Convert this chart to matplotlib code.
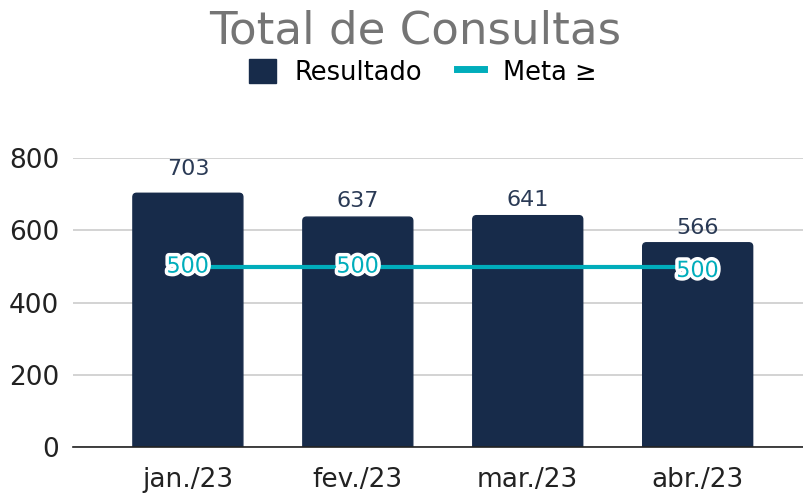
import numpy as np
import matplotlib.pyplot as plt
import matplotlib.patheffects as pe
from matplotlib.patches import FancyBboxPatch, Patch
from matplotlib.lines import Line2D

# Data
months = ["jan./23", "fev./23", "mar./23", "abr./23"]
resultado = [703, 637, 641, 566]
meta = [500, 500, 500, 500]
meta_labels_shown = [True, True, False, True]

bar_color = "#172b4a"
meta_color = "#00adbb"

fig = plt.figure(figsize=(8.04, 4.93), dpi=100)
ax = fig.add_axes([0.0908, 0.093, 0.908, 0.586])

x = np.arange(len(months))
width = 0.647
# bars with slightly rounded tops
for xi, v in zip(x, resultado):
    box = FancyBboxPatch((xi - width / 2, -30), width, v + 30,
                         boxstyle="round,pad=0,rounding_size=0.022",
                         mutation_aspect=470, color=bar_color, zorder=2,
                         clip_on=True)
    ax.add_patch(box)
ax.plot(x, meta, color=meta_color, lw=3, zorder=3)

# value labels above bars
lbl_gap = [40, 16, 16, 14]
for xi, v, g in zip(x, resultado, lbl_gap):
    ax.text(xi, v + g, str(v), ha="center", va="bottom", fontsize=16,
            color="#2a3a55", zorder=4)

offsets = [0, 0, 0, -12]
for xi, v, show, off in zip(x, meta, meta_labels_shown, offsets):
    if show:
        ax.text(xi, v + off, str(v), ha="center", va="center", fontsize=16,
                color=meta_color, zorder=5,
                path_effects=[pe.withStroke(linewidth=5, foreground="white")])

ax.set_ylim(0, 800)
ax.set_xlim(-0.676, 3.62)
ax.set_yticks([0, 200, 400, 600, 800])
ax.set_xticks(x)
ax.set_xticklabels(months)
ax.tick_params(axis="both", length=0, labelsize=19, colors="#222222")
ax.tick_params(axis="x", pad=14)
ax.tick_params(axis="y", pad=10)
ax.grid(axis="y", color="#cccccc", lw=1.2, zorder=0)
for s in ["top", "right", "left"]:
    ax.spines[s].set_visible(False)
ax.spines["bottom"].set_color("#222222")
ax.spines["bottom"].set_linewidth(1.2)
ax.spines["bottom"].set_zorder(3)

fig.text(0.517, 0.937, "Total de Consultas", ha="center", va="center",
         fontsize=32.5, color="#757575")
handles = [Patch(color=bar_color, label="Resultado"),
           Line2D([], [], color=meta_color, lw=5, label="Meta ≥")]
fig.legend(handles=handles, loc="center", bbox_to_anchor=(0.526, 0.853),
           ncol=2, frameon=False, fontsize=18.5, handlelength=1.05,
           handleheight=1.05, handletextpad=0.75, columnspacing=1.35)

fig.savefig("out.png", dpi=100)
